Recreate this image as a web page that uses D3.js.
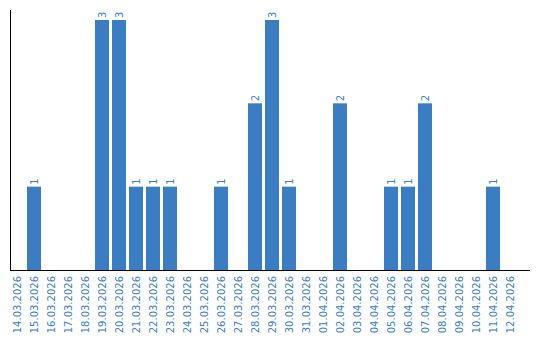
<!DOCTYPE html>
<html>
<head>
<meta charset="utf-8">
<script src="https://cdn.jsdelivr.net/npm/d3@7"></script>
<style>
  body { margin: 0; background: #fff; }
  svg text { font-family: "DejaVu Sans", Verdana, sans-serif; }
</style>
</head>
<body>
<div class="chart-container"></div>
<script>
const dates = ['14.03.2026','15.03.2026','16.03.2026','17.03.2026','18.03.2026','19.03.2026','20.03.2026',
  '21.03.2026','22.03.2026','23.03.2026','24.03.2026','25.03.2026','26.03.2026','27.03.2026','28.03.2026',
  '29.03.2026','30.03.2026','31.03.2026','01.04.2026','02.04.2026','03.04.2026','04.04.2026','05.04.2026',
  '06.04.2026','07.04.2026','08.04.2026','09.04.2026','10.04.2026','11.04.2026','12.04.2026'];
const counts = [0,1,0,0,0,3,3,1,1,1,0,0,1,0,2,3,1,0,0,2,0,0,1,1,2,0,0,0,1,0];

const svg_width = 540;
const svg_height = 340;
const barColor = '#3a7dc2';

const data = dates.map((d, i) => ({ date: d, count: counts[i] }));

const svg = d3.select('.chart-container')
  .append('svg')
  .attr('width', svg_width)
  .attr('height', svg_height);

// scales
const xScale = d3.scaleBand()
  .domain(dates)
  .range([10, 517])
  .paddingInner(3 / 17)
  .paddingOuter(0)
  .align(0);
const yScale = d3.scaleLinear()
  .domain([0, d3.max(counts)])
  .range([270, 20]);

// bars
svg.selectAll('.bar')
  .data(data.filter(d => d.count > 0))
  .join('rect')
  .attr('class', 'bar')
  .attr('x', d => xScale(d.date))
  .attr('y', d => yScale(d.count))
  .attr('width', xScale.bandwidth())
  .attr('height', d => yScale(0) - yScale(d.count))
  .style('fill', barColor);

// value labels
svg.selectAll('.val')
  .data(data.filter(d => d.count > 0))
  .join('text')
  .attr('class', 'val')
  .attr('transform', d => `translate(${xScale(d.date) + xScale.bandwidth() / 2},${yScale(d.count) - 2}) rotate(-90)`)
  .attr('dy', '0.35em')
  .style('font-size', '10px')
  .style('fill', barColor)
  .text(d => d.count);

// x axis
const xAxis = d3.axisBottom(xScale).tickSize(0).tickSizeOuter(0);
const xAxisDraw = svg.append('g')
  .attr('class', 'x axis')
  .attr('transform', `translate(0,${yScale(0)})`)
  .call(xAxis);
xAxisDraw.select('.domain').remove();
xAxisDraw.selectAll('text')
  .attr('transform', 'rotate(-90)')
  .attr('x', -6)
  .attr('y', 0)
  .attr('dy', '0.35em')
  .style('text-anchor', 'end')
  .style('font-size', '10px')
  .style('fill', barColor);

// axis lines
svg.append('line')
  .attr('x1', 10.5).attr('x2', 10.5)
  .attr('y1', 10).attr('y2', yScale(0))
  .attr('stroke', '#000');
svg.append('line')
  .attr('x1', 10).attr('x2', 530)
  .attr('y1', yScale(0) + 0.5).attr('y2', yScale(0) + 0.5)
  .attr('stroke', '#000');
</script>
</body>
</html>
